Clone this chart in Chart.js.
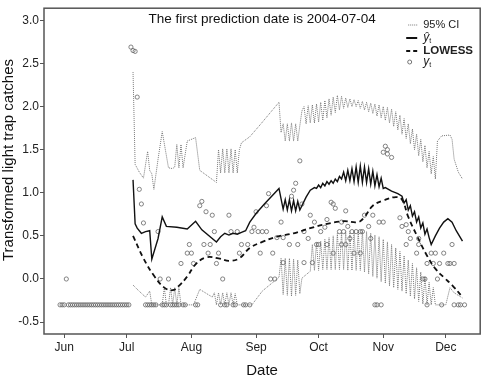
<!DOCTYPE html>
<html>
<head>
<meta charset="utf-8">
<script src="https://cdn.jsdelivr.net/npm/chart.js@4.4.1/dist/chart.umd.min.js"></script>
<style>
html, body { margin: 0; padding: 0; background: #fff; }
</style>
</head>
<body>
<canvas id="chart" width="485" height="378"></canvas>
<script>
// x = Tage seit 1. Juni 2004
const monthDays = [0, 30, 61, 92, 122, 153, 183];
const monthNames = ['Jun', 'Jul', 'Aug', 'Sep', 'Oct', 'Nov', 'Dec'];
const yTicks = [-0.5, 0, 0.5, 1, 1.5, 2, 2.5, 3];

// beobachtete Werte (y_t)
const obsDays = [
  -2, -1, 0, 1, 2, 3, 4, 5, 6, 7,
  8, 9, 10, 11, 12, 13, 14, 15, 16, 17,
  18, 19, 20, 21, 22, 23, 24, 25, 26, 27,
  28, 29, 30, 31,
  32, 33, 34, 35, 36, 37, 38, 39, 40, 41,
  42, 43, 44, 45, 46, 47, 48, 49, 50, 51,
  52, 53, 54, 55, 56, 57, 58, 59, 60, 61,
  62, 63, 64, 65, 66, 67, 68, 69, 70, 71,
  72, 73, 74, 75, 76, 77, 78, 79, 80, 81,
  82, 83, 84, 85, 86, 87, 88, 89, 90, 91,
  92, 93, 94, 95, 97, 97, 98, 99, 100, 101,
  102, 104, 105, 105, 108, 109, 110, 111, 112, 113,
  114, 115, 115, 117, 118, 119, 120, 121, 122, 123,
  125, 126, 126, 128, 129, 129, 130, 132, 133, 133,
  134, 135, 135, 136, 137, 138, 139, 140, 142, 142,
  143, 144, 146, 147, 148, 149, 150, 152, 151, 153,
  153, 154, 155, 155, 157, 161, 162, 165, 164, 164,
  166, 169, 170, 170, 172, 173, 174, 174, 176, 177,
  178, 179, 180, 181, 182, 184, 185, 186, 187, 187,
  189, 190, 192
];
const obsVals = [
  -0.3, -0.3, -0.3, 0, -0.3, -0.3, -0.3, -0.3, -0.3, -0.3,
  -0.3, -0.3, -0.3, -0.3, -0.3, -0.3, -0.3, -0.3, -0.3, -0.3,
  -0.3, -0.3, -0.3, -0.3, -0.3, -0.3, -0.3, -0.3, -0.3, -0.3,
  -0.3, -0.3, -0.3, -0.3,
  2.69, 2.65, 2.64, 2.11, 1.04, 0.87, 0.65, -0.3, -0.3, -0.3,
  -0.3, -0.3, -0.3, 0.55, 0, -0.3, -0.3, -0.3, 0, -0.3,
  -0.3, -0.3, -0.3, -0.3, 0.18, -0.3, -0.3, 0.3, 0.4, 0.3,
  0.18, -0.3, -0.3, 0.85, 0.9, 0.4, 0.78, 0.3, 0.4, 0.74,
  0.55, 0.18, 0.3, -0.3, 0, -0.3, -0.3, 0.74, 0.55, -0.3,
  -0.3, 0.55, 0.3, 0.4, -0.3, -0.3, 0.4, -0.3, 0.55, 0.6,
  0.78, 0.55, 0.3, 0.55, 0.85, 0.55, 0.99, 0, 0.3, 0,
  0.48, 0.66, 0.48, 0.19, 0.4, 0.96, 1.03, 1.11, 0.4, 1.37,
  0.87, 0.19, 0.55, 0.47, 0.74, 0.19, 0.66, 0.4, 0.4, 0.55,
  0.6, 0.4, 0.69, 0.89, 0.87, 0.3, 0.82, 0.55, 0.66, 0.4,
  0.55, 0.79, 0.4, 0.61, 0.47, 0.55, 0.3, 0.55, 0.3, 0.55,
  0.55, 0.74, 0.61, 0.47, 0.74, -0.3, -0.3, -0.3, 0.66, 0.66,
  1.47, 1.54, 1.5, 1.45, 1.41, 0.71, 0.61, 0.55, 0.4, 0.63,
  0.47, 0.3, 0.4, 0.47, 0, 0, 0.18, -0.3, 0.3, 0.18,
  0.3, 0, 0.18, -0.3, 0.3, 0.18, 0.18, 0.4, 0.18, -0.3,
  -0.3, -0.3, -0.3
];

// Vorhersage (y-hat)
const fitDays = [
  33, 34, 35, 37, 39, 41, 42, 45, 47, 49,
  54, 59, 63, 66, 73, 75, 77, 79, 81, 83,
  85, 87, 89, 92, 96, 103, 104, 105, 106, 107,
  108, 109, 110, 111, 112, 113, 116, 118, 120, 121,
  122, 123, 124, 125, 126, 127, 128, 129, 130, 131,
  132, 133, 134, 135, 136, 137, 138, 139, 140, 141,
  142, 143, 144, 145, 146, 147, 148, 149, 150, 151,
  152, 153, 154, 157, 160, 162, 163, 164, 165, 166,
  167, 168, 169, 170, 171, 172, 173, 174, 175, 176,
  178, 180, 182, 184, 186, 188, 191
];
const fitVals = [
  1.15, 0.64, 0.59, 0.53, 0.55, 0.56, 0.23, 0.47, 0.72, 0.61,
  0.60, 0.58, 0.67, 0.57, 0.43, 0.49, 0.53, 0.51, 0.53, 0.52,
  0.54, 0.56, 0.66, 0.76, 0.87, 1.05, 0.93, 0.81, 0.92, 0.80,
  0.92, 0.79, 0.91, 0.79, 0.90, 0.80, 0.95, 1.03, 1.06, 1.05,
  1.09, 1.06, 1.11, 1.08, 1.13, 1.10, 1.14, 1.11, 1.16, 1.13,
  1.19, 1.16, 1.24, 1.14, 1.26, 1.14, 1.28, 1.13, 1.30, 1.12,
  1.31, 1.12, 1.30, 1.12, 1.28, 1.10, 1.25, 1.08, 1.21, 1.07,
  1.17, 1.05, 1.06, 1.02, 0.99, 0.96, 0.88, 0.92, 0.80, 0.85,
  0.73, 0.78, 0.66, 0.72, 0.59, 0.65, 0.52, 0.58, 0.48, 0.40,
  0.50, 0.59, 0.66, 0.70, 0.66, 0.56, 0.44
];

// LOWESS
const lowessDays = [33, 38, 43, 48, 52, 55, 59, 63, 68, 74, 79, 84, 89, 95, 102, 110,
  118, 126, 134, 141, 144, 148, 153, 159, 162, 165, 169, 174, 178, 182, 186, 191];
const lowessVals = [0.50, 0.24, 0.04, -0.10, -0.13, -0.08, 0.03, 0.17, 0.25, 0.24, 0.21, 0.24, 0.36, 0.43, 0.49, 0.53,
  0.59, 0.64, 0.67, 0.66, 0.72, 0.85, 0.91, 0.95, 0.92, 0.72, 0.51, 0.27, 0.12, 0.02, -0.07, -0.21];

// 95% KI oben
const ciUpDays = [
  33, 34, 36, 38, 40, 41, 42, 43, 45, 47,
  50, 52, 53, 54, 55, 56, 57, 59, 63, 65,
  73, 74, 75, 76, 77, 78, 79, 80, 81, 82,
  83, 84, 85, 89, 94, 103, 104, 105, 106, 107,
  108, 109, 110, 111, 112, 113, 114,
  115, 116, 117, 118, 119, 120, 121, 122, 123, 124,
  125, 126, 127, 128, 129, 130, 131, 132, 133, 134,
  135, 136, 137, 138, 139, 140, 141, 142, 143, 144,
  145, 146, 147, 148, 149, 150, 151, 152, 153, 154,
  155, 156, 157, 158, 159, 160, 161, 162, 163, 164,
  165, 166, 167, 168, 169, 170, 171, 172, 173, 174,
  175, 176, 177, 178,
  179, 181, 185, 186, 187, 189, 191
];
const ciUpVals = [
  2.40, 1.33, 1.24, 1.17, 1.48, 1.26, 1.22, 1.04, 1.39, 1.71,
  1.29, 1.28, 1.30, 1.56, 1.29, 1.56, 1.29, 1.60, 1.64, 1.26,
  1.12, 1.50, 1.23, 1.51, 1.23, 1.51, 1.23, 1.51, 1.23, 1.50,
  1.23, 1.50, 1.58, 1.65, 1.79, 2.05, 1.70, 1.80, 1.60, 1.80,
  1.60, 1.81, 1.60, 1.80, 1.60, 1.78, 1.95,
  2.00, 1.80, 2.01, 1.81, 2.02, 1.81, 2.03, 1.82, 2.05, 1.84,
  2.07, 1.87, 2.09, 1.90, 2.11, 1.93, 2.13, 1.96, 2.12, 1.98,
  2.10, 1.99, 2.09, 2.00, 2.08, 2.00, 2.07, 1.98, 2.06, 1.96,
  2.05, 1.94, 2.04, 1.92, 2.03, 1.89, 2.02, 1.87, 2.00, 1.84,
  1.99, 1.81, 1.97, 1.77, 1.94, 1.73, 1.90, 1.68, 1.86, 1.63,
  1.80, 1.57, 1.74, 1.50, 1.68, 1.43, 1.62, 1.36, 1.55, 1.29,
  1.48, 1.22, 1.42, 1.16,
  1.60, 1.66, 1.67, 1.62, 1.39, 1.24, 1.16
];

// 95% KI unten
const ciLoDays = [
  33, 35, 39, 41, 42, 47, 48, 49, 50, 51,
  52, 53, 54, 55, 56, 62, 65, 71, 72, 73,
  74, 75, 76, 77, 78, 79, 80, 81, 82, 83,
  90, 95, 103, 104, 105, 106, 107, 108, 109, 110,
  111, 112, 113, 114, 118,
  119, 120, 121, 122, 123, 124, 125, 126, 127, 128,
  129, 130, 131, 132, 133, 134, 135, 136, 137, 138,
  139, 140, 141, 142, 143, 144, 145, 146, 147, 148,
  149, 150, 151, 152, 153, 154, 155, 156, 157, 158,
  159, 160, 161, 162, 163, 164, 165, 166, 167, 168,
  169, 170, 171, 172, 173, 174, 175, 176, 177, 178,
  183, 185, 187, 191
];
const ciLoVals = [
  -0.07, -0.12, -0.21, -0.14, -0.30, -0.30, -0.10, -0.30, -0.30, -0.10,
  -0.30, -0.10, -0.30, -0.10, -0.30, -0.30, -0.12, -0.21, -0.16, -0.30,
  -0.16, -0.30, -0.16, -0.30, -0.16, -0.30, -0.16, -0.30, -0.17, -0.30,
  -0.30, -0.14, 0.02, 0.24, -0.18, 0.24, -0.19, 0.24, -0.20, 0.23,
  -0.19, 0.22, -0.17, 0.01, 0.09,
  0.40, 0.10, 0.42, 0.10, 0.44, 0.11, 0.46, 0.11, 0.48, 0.11,
  0.50, 0.11, 0.53, 0.11, 0.54, 0.11, 0.55, 0.10, 0.55, 0.10,
  0.56, 0.10, 0.56, 0.10, 0.56, 0.08, 0.55, 0.06, 0.53, 0.03,
  0.51, 0.01, 0.49, -0.03, 0.46, -0.05, 0.43, -0.08, 0.40, -0.10,
  0.36, -0.12, 0.32, -0.14, 0.27, -0.17, 0.22, -0.20, 0.18, -0.23,
  0.13, -0.26, 0.08, -0.29, 0.03, -0.30, -0.04, -0.30, -0.10, -0.30,
  -0.30, -0.10, -0.16, -0.22
];

const titleText = 'The first prediction date is 2004-07-04';
const yTitle = 'Transformed light trap catches';
const fontFamily = '"Liberation Sans", Arial, sans-serif';

function pts(xs, ys) {
  return xs.map((x, i) => ({ x: x, y: ys[i] }));
}

// Rahmen, Titel im Plot, Legende und y-Achsentitel
const decorPlugin = {
  id: 'decor',
  afterDraw(chart) {
    const ctx = chart.ctx;
    const a = chart.chartArea;
    ctx.save();
    ctx.strokeStyle = '#555';
    ctx.lineWidth = 1.5;
    ctx.strokeRect(a.left, a.top, a.right - a.left, a.bottom - a.top);

    ctx.fillStyle = '#111';
    ctx.textAlign = 'center';
    ctx.textBaseline = 'middle';
    ctx.font = '13.5px ' + fontFamily;
    ctx.fillText(titleText, (a.left + a.right) / 2, 19);

    // y-Titel
    ctx.save();
    ctx.translate(9, 160);
    ctx.rotate(-Math.PI / 2);
    ctx.font = '15px ' + fontFamily;
    ctx.fillText(yTitle, 0, 0);
    ctx.restore();

    // Legende
    const x0 = a.right - 74, x1 = a.right - 63, tx = a.right - 57;
    ctx.textAlign = 'left';
    ctx.strokeStyle = '#777';
    ctx.lineWidth = 1;
    ctx.setLineDash([1, 1]);
    ctx.beginPath(); ctx.moveTo(x0 + 2, 25); ctx.lineTo(x1 + 1, 25); ctx.stroke();
    ctx.setLineDash([]);
    ctx.strokeStyle = '#111';
    ctx.lineWidth = 2;
    ctx.beginPath(); ctx.moveTo(x0, 38); ctx.lineTo(x1, 38); ctx.stroke();
    ctx.setLineDash([4, 3]);
    ctx.beginPath(); ctx.moveTo(x0, 51); ctx.lineTo(x1, 51); ctx.stroke();
    ctx.setLineDash([]);
    ctx.strokeStyle = '#666';
    ctx.lineWidth = 0.9;
    ctx.beginPath(); ctx.arc(x0 + 3.5, 62, 2, 0, Math.PI * 2); ctx.stroke();

    ctx.fillStyle = '#222';
    ctx.font = '11px ' + fontFamily;
    ctx.fillText('95% CI', tx, 25);
    ctx.font = 'italic 12px ' + fontFamily;
    ctx.fillText('\u0177', tx, 38);
    ctx.fillText('y', tx, 62);
    ctx.font = '7px ' + fontFamily;
    ctx.fillText('t', tx + 6, 41);
    ctx.fillText('t', tx + 6, 65);
    ctx.font = 'bold 11.5px ' + fontFamily;
    ctx.fillText('LOWESS', tx, 51);
    ctx.restore();
  }
};

const tickFont = { family: fontFamily, size: 12 };

new Chart(document.getElementById('chart'), {
  type: 'line',
  data: {
    datasets: [
      {
        label: 'y-hat', data: pts(fitDays, fitVals), order: 0,
        borderColor: '#111', borderWidth: 1.4, pointRadius: 0, tension: 0, fill: false
      },
      {
        label: 'LOWESS', data: pts(lowessDays, lowessVals), order: 1,
        borderColor: '#111', borderWidth: 1.8, borderDash: [5, 3.5], pointRadius: 0, tension: 0.4, fill: false
      },
      {
        type: 'scatter', label: 'y', data: pts(obsDays, obsVals), order: 2,
        pointStyle: 'circle', pointRadius: 2.1, borderColor: '#666', borderWidth: 0.8,
        backgroundColor: 'rgba(0,0,0,0)', showLine: false
      },
      {
        label: 'CI upper', data: pts(ciUpDays, ciUpVals), order: 3,
        borderColor: '#777', borderWidth: 1, borderDash: [1, 1], pointRadius: 0, tension: 0, fill: false
      },
      {
        label: 'CI lower', data: pts(ciLoDays, ciLoVals), order: 4,
        borderColor: '#777', borderWidth: 1, borderDash: [1, 1], pointRadius: 0, tension: 0, fill: false
      }
    ]
  },
  options: {
    responsive: false,
    animation: false,
    devicePixelRatio: 1,
    layout: { padding: { top: 4, right: 4, left: 0, bottom: 0 } },
    plugins: {
      legend: { display: false },
      tooltip: { enabled: false },
      title: { display: false }
    },
    scales: {
      x: {
        type: 'linear',
        min: -9.7,
        max: 199.5,
        afterBuildTicks: s => { s.ticks = monthDays.map(v => ({ value: v })); },
        afterFit: s => { s.height = 44; },
        border: { display: false },
        grid: { drawOnChartArea: false, drawTicks: true, tickLength: 4, color: '#555' },
        ticks: {
          callback: v => monthNames[monthDays.indexOf(v)],
          font: tickFont, color: '#222', padding: 2, maxRotation: 0, autoSkip: false
        },
        title: {
          display: true, text: 'Date', color: '#111',
          font: { family: fontFamily, size: 15, lineHeight: 1 },
          padding: { top: 0, bottom: 0 }
        }
      },
      y: {
        type: 'linear',
        min: -0.638,
        max: 3.141,
        afterBuildTicks: s => { s.ticks = yTicks.map(v => ({ value: v })); },
        afterFit: s => { s.width = 44; },
        border: { display: false },
        grid: { drawOnChartArea: false, drawTicks: true, tickLength: 4, color: '#555' },
        ticks: {
          callback: v => v.toFixed(1),
          font: tickFont, color: '#222', padding: 1
        }
      }
    }
  },
  plugins: [decorPlugin]
});
</script>
</body>
</html>
